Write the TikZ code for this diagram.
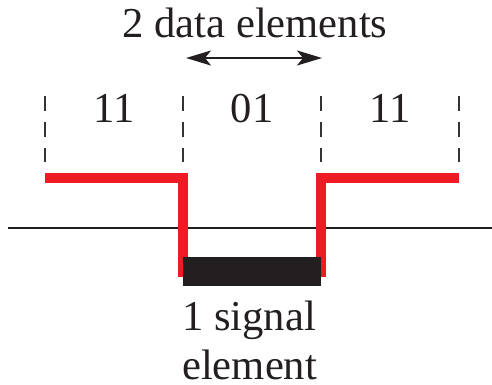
\documentclass[tikz,border=0pt]{standalone}
\usepackage{fontspec}
\setmainfont{Liberation Serif}
\usetikzlibrary{arrows.meta}
\definecolor{sigred}{HTML}{ED1C24}
\definecolor{barblack}{HTML}{231F20}
\definecolor{tickgray}{HTML}{333333}
\begin{document}
\begin{tikzpicture}[x=1pt,y=-1pt,
  lbl/.style={inner sep=0pt, font=\fontsize{42.6}{50}\selectfont, text=barblack},
  slotline/.style={tickgray, line width=2.6pt, dash pattern=on 15pt off 11pt},
  signal/.style={sigred, line width=10pt},
  axis/.style={barblack, line width=1.5pt},
  span/.style={barblack, line width=2pt, {Stealth[length=25pt,width=15pt,inset=6pt]}-{Stealth[length=25pt,width=15pt,inset=6pt]}}
]
\useasboundingbox (0,0) rectangle (492,384);

% slot boundaries
\foreach \n/\x in {a/45,b/183,c/321,d/459}{
  \coordinate (\n top) at (\x,96);
  \coordinate (\n bot) at (\x,162);
  \draw[slotline] (\n top) -- (\n bot);
}

% data labels for each slot
\node[lbl, anchor=base] (d1) at (114,122) {11};
\node[lbl, anchor=base] (d2) at (252,122) {01};
\node[lbl, anchor=base] (d3) at (390,122) {11};

% span of two data elements
\node[lbl, anchor=base] (title) at (255,37) {2 data elements};
\coordinate (spanL) at (186,58);
\coordinate (spanR) at (322,58);
\draw[span] (spanL) -- (spanR);

% zero axis
\coordinate (axL) at (8,228);
\coordinate (axR) at (492,228);
\draw[axis] (axL) -- (axR);

% signal waveform
\coordinate (s0) at (45,178);
\coordinate (s1) at (183,178);
\coordinate (s2) at (183,272);
\coordinate (s3) at (321,272);
\coordinate (s4) at (321,178);
\coordinate (s5) at (459,178);
\draw[signal, line join=miter] (s0) -- (s1) -- (s2) -- (s3) -- (s4) -- (s5);

% one signal element
\fill[barblack] (183,257) rectangle (321,286);
\node[lbl, anchor=base west] (sig1) at (182,330) {1 signal};
\node[lbl, anchor=base west, text depth=0pt] (sig2) at (182,379) {element};
\end{tikzpicture}
\end{document}
